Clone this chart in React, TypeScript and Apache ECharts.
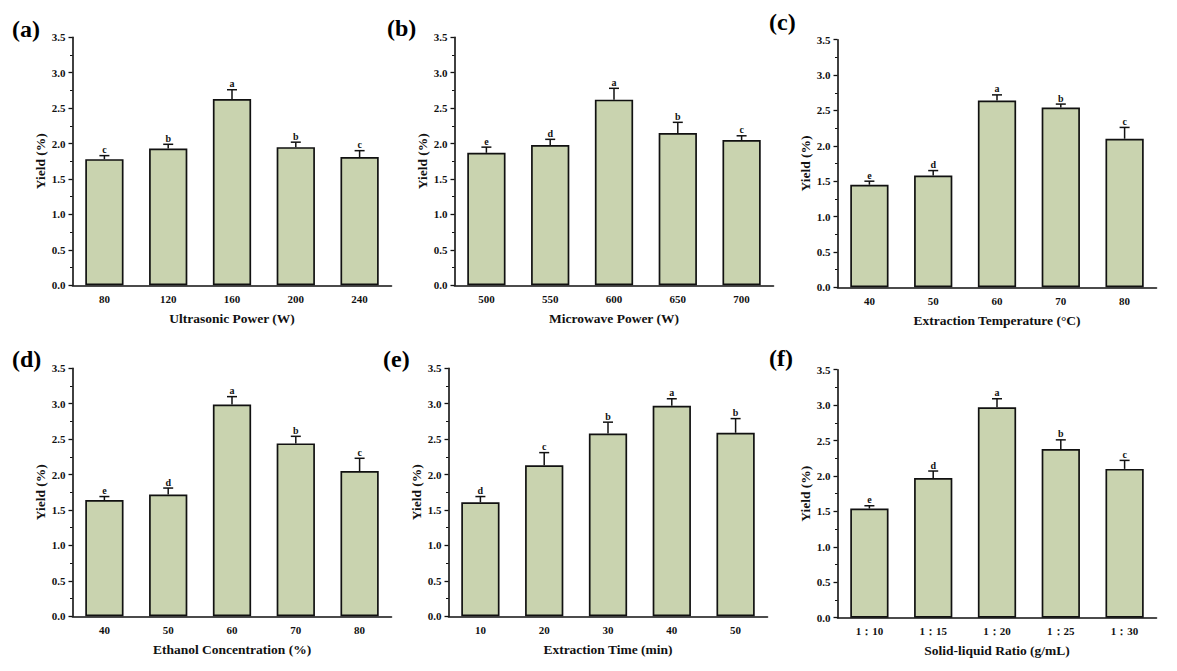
import React, { useEffect, useRef } from "react";
import * as echarts from "echarts";

// ---------- data ----------
const catsA = ["80", "120", "160", "200", "240"];
const valsA = [1.78, 1.93, 2.63, 1.95, 1.81];
const errA = [0.05, 0.06, 0.13, 0.07, 0.09];
const sigA = ["c", "b", "a", "b", "c"];

const catsB = ["500", "550", "600", "650", "700"];
const valsB = [1.87, 1.98, 2.62, 2.15, 2.05];
const errB = [0.08, 0.08, 0.16, 0.15, 0.06];
const sigB = ["e", "d", "a", "b", "c"];

const catsC = ["40", "50", "60", "70", "80"];
const valsC = [1.45, 1.58, 2.64, 2.54, 2.1];
const errC = [0.05, 0.07, 0.08, 0.05, 0.16];
const sigC = ["e", "d", "a", "b", "c"];

const catsD = ["40", "50", "60", "70", "80"];
const valsD = [1.64, 1.72, 2.99, 2.44, 2.05];
const errD = [0.05, 0.09, 0.11, 0.1, 0.18];
const sigD = ["e", "d", "a", "b", "c"];

const catsE = ["10", "20", "30", "40", "50"];
const valsE = [1.61, 2.13, 2.58, 2.97, 2.59];
const errE = [0.08, 0.18, 0.16, 0.1, 0.2];
const sigE = ["d", "c", "b", "a", "b"];

const catsF = ["1：10", "1：15", "1：20", "1：25", "1：30"];
const valsF = [1.54, 1.97, 2.97, 2.38, 2.1];
const errF = [0.04, 0.1, 0.12, 0.13, 0.12];
const sigF = ["e", "d", "a", "b", "c"];

const xNames = [
  "Ultrasonic Power (W)",
  "Microwave Power (W)",
  "Extraction Temperature (°C)",
  "Ethanol Concentration (%)",
  "Extraction Time (min)",
  "Solid-liquid Ratio (g/mL)",
];
const panelTags = ["(a)", "(b)", "(c)", "(d)", "(e)", "(f)"];
const yName = "Yield (%)";
const yTicks = { min: 0, max: 3.5, interval: 0.5 };

// ---------- layout ----------
const grids = [
  { left: 72.5, top: 37.3, width: 319, height: 248 },
  { left: 454.5, top: 37.3, width: 319, height: 248 },
  { left: 837.5, top: 39.7, width: 319, height: 247.6 },
  { left: 72.5, top: 368.3, width: 319, height: 248 },
  { left: 448.5, top: 368.3, width: 319, height: 248 },
  { left: 837.5, top: 369.7, width: 319, height: 248 },
];
const tagPos = [
  [12, 29],
  [387, 28],
  [769, 22],
  [12, 359],
  [383, 359],
  [769, 358],
];

const FONT = '"Liberation Serif", "Times New Roman", serif';
const BAR_COLOR = "#c9d3af";
const INK = "#111111";

const panels = [
  { cats: catsA, vals: valsA, errs: errA, sigs: sigA },
  { cats: catsB, vals: valsB, errs: errB, sigs: sigB },
  { cats: catsC, vals: valsC, errs: errC, sigs: sigC },
  { cats: catsD, vals: valsD, errs: errD, sigs: sigD },
  { cats: catsE, vals: valsE, errs: errE, sigs: sigE },
  { cats: catsF, vals: valsF, errs: errF, sigs: sigF },
];

function buildOption() {
  const grid: any[] = [];
  const xAxis: any[] = [];
  const yAxis: any[] = [];
  const series: any[] = [];
  const graphic: any[] = [];

  panels.forEach((p, k) => {
    grid.push({ ...grids[k], containLabel: false });
    xAxis.push({
      type: "category",
      gridIndex: k,
      data: p.cats,
      name: xNames[k],
      nameLocation: "middle",
      nameGap: 26,
      nameTextStyle: { fontFamily: FONT, fontWeight: "bold", fontSize: 13.5, color: INK },
      axisLine: { lineStyle: { color: INK, width: 1.6 } },
      axisTick: { alignWithLabel: true, length: 4, lineStyle: { color: INK, width: 1.3 } },
      axisLabel: { fontFamily: FONT, fontWeight: "bold", fontSize: 11, color: INK, margin: 8 },
      splitLine: { show: false },
    });
    yAxis.push({
      type: "value",
      gridIndex: k,
      min: yTicks.min,
      max: yTicks.max,
      interval: yTicks.interval,
      name: yName,
      nameLocation: "middle",
      nameGap: 24,
      nameRotate: 90,
      nameTextStyle: { fontFamily: FONT, fontWeight: "bold", fontSize: 13.5, color: INK },
      axisLine: { show: true, lineStyle: { color: INK, width: 1.6 } },
      axisTick: { show: true, length: 4, lineStyle: { color: INK, width: 1.3 } },
      minorTick: { show: true, splitNumber: 2, length: 2.5, lineStyle: { color: INK, width: 1 } },
      axisLabel: {
        fontFamily: FONT,
        fontWeight: "bold",
        fontSize: 11,
        color: INK,
        margin: 7,
        formatter: (v: number) => v.toFixed(1),
      },
      splitLine: { show: false },
    });
    series.push({
      type: "bar",
      xAxisIndex: k,
      yAxisIndex: k,
      data: p.vals,
      barWidth: "60%",
      itemStyle: { color: BAR_COLOR, borderColor: INK, borderWidth: 1.7 },
      z: 2,
    });
    const sigs = p.sigs;
    series.push({
      type: "custom",
      xAxisIndex: k,
      yAxisIndex: k,
      data: p.vals.map((v, i) => [i, v, p.errs[i]]),
      encode: { x: 0, y: 1 },
      z: 3,
      renderItem: (params: any, api: any) => {
        const i = api.value(0);
        const v = api.value(1);
        const e = api.value(2);
        const base = api.coord([i, v]);
        const top = api.coord([i, v + e]);
        const hw = 5;
        return {
          type: "group",
          children: [
            {
              type: "line",
              shape: { x1: base[0], y1: base[1], x2: top[0], y2: top[1] },
              style: { stroke: INK, lineWidth: 1.5 },
            },
            {
              type: "line",
              shape: { x1: top[0] - hw, y1: top[1], x2: top[0] + hw, y2: top[1] },
              style: { stroke: INK, lineWidth: 1.5 },
            },
            {
              type: "text",
              x: top[0],
              y: top[1] - 1,
              style: {
                text: sigs[params.dataIndex],
                fontFamily: FONT,
                fontWeight: "bold",
                fontSize: 10,
                fill: INK,
                align: "center",
                verticalAlign: "bottom",
              },
            },
          ],
        };
      },
    });
    graphic.push({
      type: "text",
      left: tagPos[k][0],
      top: tagPos[k][1] - 12,
      style: {
        text: panelTags[k],
        fontFamily: FONT,
        fontWeight: "bold",
        fontSize: 24,
        fill: "#000",
      },
    });
  });

  return {
    animation: false,
    backgroundColor: "#fff",
    grid,
    xAxis,
    yAxis,
    series,
    graphic,
  };
}

export default function App() {
  const ref = useRef<HTMLDivElement>(null);
  useEffect(() => {
    document.body.style.margin = "0";
    if (!ref.current) return;
    const chart = echarts.init(ref.current, undefined, { renderer: "svg" });
    chart.setOption(buildOption() as any);
    return () => chart.dispose();
  }, []);
  return (
    <div
      ref={ref}
      style={{ position: "absolute", left: 0, top: 0, width: 1177, height: 671, background: "#fff" }}
    />
  );
}
